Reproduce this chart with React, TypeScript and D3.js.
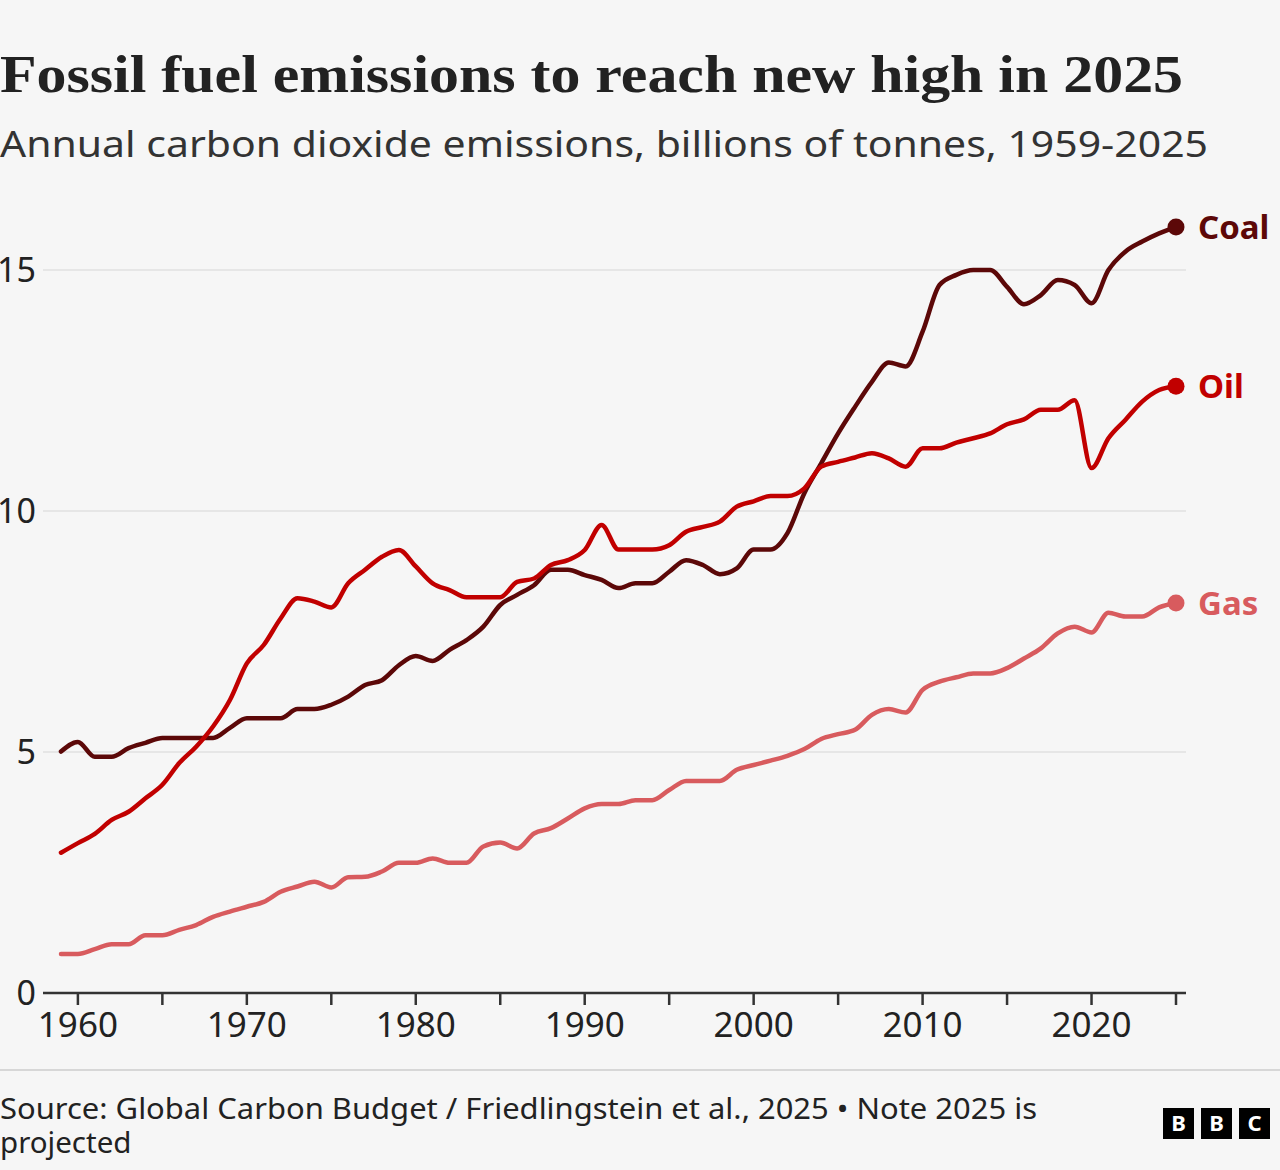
import React from 'react'
import * as d3 from 'd3'

// years 1959-2025
const startYear = 1959
const endYear = 2025

// billions of tonnes CO2
const coal = [
  5.01, 5.21, 4.9, 4.9, 5.08, 5.19, 5.29, 5.29, 5.29, 5.29,
  5.5, 5.7, 5.7, 5.7, 5.89, 5.89, 5.98, 6.15, 6.39, 6.49,
  6.8, 6.99, 6.89, 7.12, 7.32, 7.6, 8.05, 8.26, 8.46, 8.78,
  8.78, 8.67, 8.57, 8.4, 8.5, 8.5, 8.74, 8.98, 8.88, 8.69,
  8.81, 9.2, 9.2, 9.54, 10.37, 10.99, 11.61, 12.16, 12.68, 13.08,
  13.0, 13.72, 14.69, 14.9, 15.0, 15.0, 14.65, 14.29, 14.48, 14.79,
  14.69, 14.31, 15.0, 15.38, 15.59, 15.76, 15.89,
]

const oil = [
  2.91, 3.11, 3.3, 3.59, 3.76, 4.04, 4.32, 4.77, 5.11, 5.53,
  6.08, 6.84, 7.22, 7.77, 8.19, 8.12, 8.0, 8.5, 8.78, 9.05,
  9.19, 8.85, 8.5, 8.36, 8.21, 8.21, 8.21, 8.53, 8.6, 8.88,
  8.98, 9.19, 9.71, 9.2, 9.2, 9.2, 9.29, 9.57, 9.67, 9.78,
  10.09, 10.2, 10.31, 10.31, 10.47, 10.92, 11.02, 11.11, 11.2, 11.09,
  10.92, 11.3, 11.3, 11.42, 11.51, 11.61, 11.8, 11.9, 12.1, 12.1,
  12.3, 10.89, 11.51, 11.89, 12.27, 12.51, 12.59,
]

const gas = [
  0.81, 0.81, 0.91, 1.01, 1.01, 1.2, 1.2, 1.31, 1.41, 1.58,
  1.69, 1.79, 1.89, 2.1, 2.21, 2.31, 2.19, 2.4, 2.41, 2.52,
  2.7, 2.7, 2.79, 2.7, 2.7, 3.04, 3.12, 3.0, 3.31, 3.42,
  3.62, 3.83, 3.92, 3.92, 4.0, 4.0, 4.21, 4.4, 4.4, 4.4,
  4.63, 4.73, 4.82, 4.92, 5.06, 5.27, 5.37, 5.46, 5.77, 5.89,
  5.82, 6.29, 6.46, 6.55, 6.63, 6.63, 6.74, 6.94, 7.15, 7.46,
  7.6, 7.48, 7.89, 7.81, 7.81, 8.0, 8.09,
]

const seriesNames = ['Coal', 'Oil', 'Gas']
const seriesColours = ['#5c0808', '#c10000', '#d85b5e']
const yTicks = [0, 5, 10, 15]
const xTicks = d3.range(1960, 2026, 5)

const W = 1280
const H = 1170
const margin = { left: 43, right: 1186, top: 200, bottom: 993 }

export default function App() {
  const years = d3.range(startYear, endYear + 1)
  const series = [coal, oil, gas]

  const x = d3.scaleLinear().domain([startYear, endYear]).range([61, 1176])
  const y = d3.scaleLinear().domain([0, 15]).range([margin.bottom, 270])

  const line = d3
    .line<number>()
    .x((_, i) => x(years[i]))
    .y((d) => y(d))
    .curve(d3.curveMonotoneX)

  const sans = "'Noto Sans', 'Open Sans', sans-serif"

  return (
    <svg
      width={W}
      height={H}
      style={{ position: 'absolute', left: 0, top: 0, background: '#f6f6f6' }}
    >
      <rect width={W} height={H} fill="#f6f6f6" />

      <text
        x={0}
        y={92}
        fontFamily="'Liberation Serif', 'DejaVu Serif', serif"
        fontWeight="bold"
        fontSize={52}
        fill="#222"
        textLength={1183}
        lengthAdjust="spacingAndGlyphs"
      >
        Fossil fuel emissions to reach new high in 2025
      </text>
      <text
        x={0}
        y={157}
        fontFamily={sans}
        fontSize={37}
        fill="#333"
        textLength={1208}
        lengthAdjust="spacingAndGlyphs"
      >
        Annual carbon dioxide emissions, billions of tonnes, 1959-2025
      </text>

      {/* grid */}
      {yTicks.map((t) => (
        <g key={t}>
          {t > 0 && (
            <line
              x1={margin.left}
              x2={margin.right}
              y1={y(t)}
              y2={y(t)}
              stroke="#e6e6e6"
              strokeWidth={2}
            />
          )}
          <text
            x={36}
            y={y(t)}
            dy="0.36em"
            textAnchor="end"
            fontFamily={sans}
            fontSize={34}
            fill="#222"
          >
            {t}
          </text>
        </g>
      ))}

      {/* x axis */}
      <line
        x1={margin.left}
        x2={margin.right}
        y1={margin.bottom}
        y2={margin.bottom}
        stroke="#333"
        strokeWidth={2.5}
      />
      {xTicks.map((t) => (
        <g key={t}>
          <line
            x1={x(t)}
            x2={x(t)}
            y1={margin.bottom}
            y2={margin.bottom + 12}
            stroke="#333"
            strokeWidth={2.5}
          />
          {t % 10 === 0 && (
            <text
              x={x(t)}
              y={1037}
              textAnchor="middle"
              fontFamily={sans}
              fontSize={35}
              fill="#222"
            >
              {t}
            </text>
          )}
        </g>
      ))}

      {/* lines */}
      {series.map((s, i) => (
        <path
          key={seriesNames[i]}
          d={line(s) || ''}
          fill="none"
          stroke={seriesColours[i]}
          strokeWidth={4.5}
          strokeLinejoin="round"
          strokeLinecap="round"
        />
      ))}
      {series.map((s, i) => (
        <g key={seriesNames[i] + '-end'}>
          <circle
            cx={x(endYear)}
            cy={y(s[s.length - 1])}
            r={8.5}
            fill={seriesColours[i]}
          />
          <text
            x={1198}
            y={y(s[s.length - 1])}
            dy="0.36em"
            fontFamily={sans}
            fontWeight="bold"
            fontSize={33}
            fill={seriesColours[i]}
          >
            {seriesNames[i]}
          </text>
        </g>
      ))}

      {/* footer */}
      <line x1={0} x2={W} y1={1070} y2={1070} stroke="#cccccc" strokeWidth={1.5} />
      <text
        x={0}
        y={1119}
        fontFamily={sans}
        fontSize={29.5}
        fill="#222"
        textLength={1037}
        lengthAdjust="spacingAndGlyphs"
      >
        Source: Global Carbon Budget / Friedlingstein et al., 2025 • Note 2025 is
      </text>
      <text x={0} y={1153} fontFamily={sans} fontSize={29.5} fill="#222">
        projected
      </text>
      {['B', 'B', 'C'].map((c, i) => (
        <g key={i} transform={`translate(${1163 + i * 38},1108)`}>
          <rect width={31} height={31} fill="#000" />
          <text
            x={15.5}
            y={15.5}
            dy="0.36em"
            textAnchor="middle"
            fontFamily={sans}
            fontWeight="bold"
            fontSize={22}
            fill="#fff"
          >
            {c}
          </text>
        </g>
      ))}
    </svg>
  )
}
